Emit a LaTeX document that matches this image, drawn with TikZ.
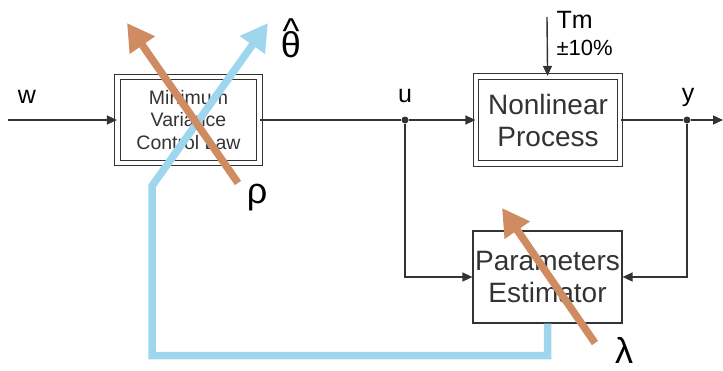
\documentclass[tikz,border=0pt]{standalone}
\usepackage{fontspec}
\setmainfont{Liberation Sans}
\usetikzlibrary{positioning,arrows.meta}
\definecolor{ink}{HTML}{333333}
\definecolor{skyline}{HTML}{9ED6EE}
\definecolor{tune}{HTML}{CF8C62}

\begin{document}
\begin{tikzpicture}[x=1pt,y=-1pt,
  blk/.style={draw=ink,line width=1.2pt,align=center,text=ink,inner sep=0pt},
  dblk/.style={blk,double,double distance=4.5pt},
  line/.style={-{Triangle[length=10pt,width=9pt]},draw=ink,line width=1.4pt},
  dot/.style={circle,fill=ink,inner sep=0pt,minimum size=7pt},
  lbl/.style={font=\fontsize{25}{27}\selectfont},
  big/.style={font=\fontsize{36}{38}\selectfont},
  adapt/.style={line width=7.5pt,-{Triangle[length=27pt,width=29pt]}}]
\useasboundingbox (0,0) rectangle (723,370);
% blocks
\node[dblk,minimum width=142pt,minimum height=86pt,font=\fontsize{19.5}{22.5}\selectfont] (mv) at (188.5,120) {Minimum\\Variance\\Control Law};
\node[dblk,minimum width=144pt,minimum height=87pt,font=\fontsize{28}{32}\selectfont] (np) at (548,120) {Nonlinear\\Process};
\node[blk,minimum width=149pt,minimum height=92pt,font=\fontsize{28}{32}\selectfont] (est) at (547.5,277) {Parameters\\Estimator};
% signals
\coordinate (win) at (8,120);
\coordinate (yout) at (723,120);
\coordinate (tmin) at (547,17);
\node[dot] (u) at (405,120) {};
\node[dot] (y) at (687,120) {};
\node[lbl] (wl) at (27,97) {w};
\node[lbl] (ul) at (405,96) {u};
\node[lbl] (yl) at (688,97) {y};
\node[lbl,anchor=west] (tm) at (553,20) {Tm};
\node[font=\fontsize{22}{24}\selectfont,anchor=west] (pm) at (553,48) {±10\%};
\draw[line] (win) -- (mv);
\draw[draw=ink,line width=1.4pt] (mv) -- (u);
\draw[line] (u) -- (np);
\draw[draw=ink,line width=1.4pt] (np) -- (y);
\draw[line] (y) -- (yout);
\draw[line] (tmin) -- (np);
\draw[line] (u) |- (est);
\draw[line] (y) |- (est);
% adaptation
\coordinate (bend) at (152,186);
\coordinate (ttip) at (268,23);
\coordinate (rtail) at (238,183);
\coordinate (rtip) at (127,23);
\coordinate (ltail) at (595,343);
\coordinate (ltip) at (502,208);
\draw[adapt,skyline] (est.south) -- ++(0,32) -| (bend) -- (ttip);
\draw[adapt,tune] (rtail) -- (rtip);
\draw[adapt,tune] (ltail) -- (ltip);
\node[big] (th) at (291,44) {\ooalign{θ\cr\hidewidth\raisebox{0.38em}{\textasciicircum}\hidewidth\cr}};
\node[big] (rho) at (257,198) {ρ};
\node[big] (lam) at (624,350) {λ};
\end{tikzpicture}
\end{document}
